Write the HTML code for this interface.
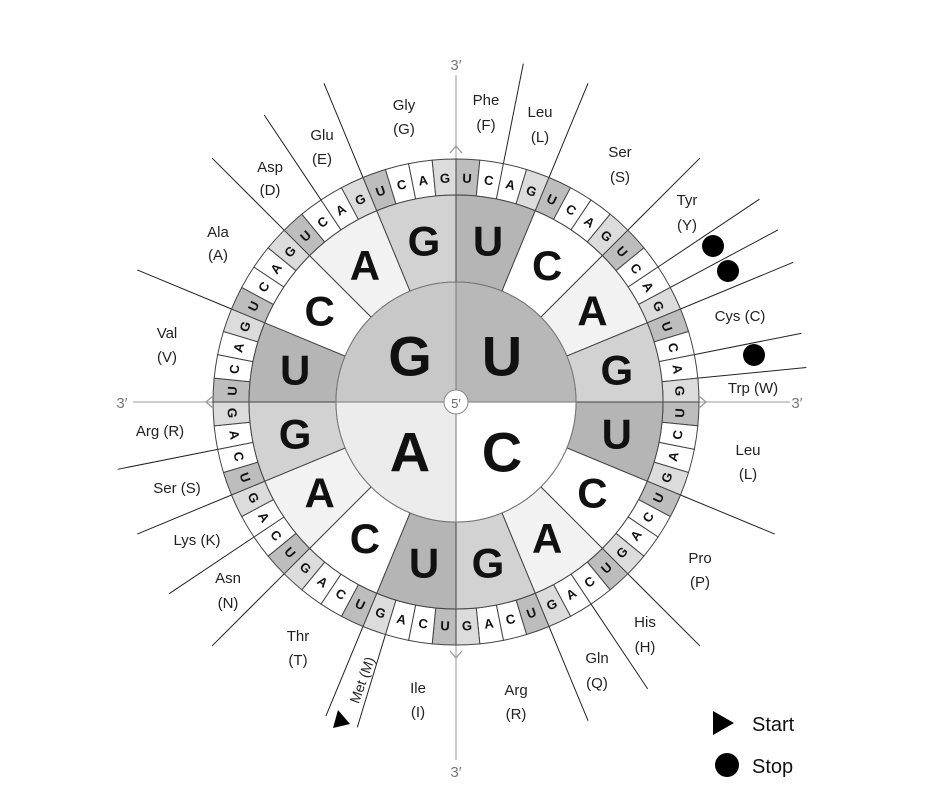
<!DOCTYPE html>
<html><head><meta charset="utf-8"><style>
html,body{margin:0;padding:0;background:#fff;}
svg{display:block;font-family:"Liberation Sans",sans-serif;}
.c3{font-size:13px;font-weight:bold;fill:#111;text-anchor:middle;dominant-baseline:central;}
.c2{font-size:42px;font-weight:bold;fill:#111;text-anchor:middle;dominant-baseline:central;}
.c1{font-size:56px;font-weight:bold;fill:#111;text-anchor:middle;dominant-baseline:central;}
.lb{font-size:15px;fill:#222;text-anchor:middle;}
.u{fill:#bdbdbd}.c{fill:#fff}.a{fill:#fff}.g{fill:#dcdcdc}
.w use{stroke:#444;stroke-width:1;}
.bl line{stroke:#222;stroke-width:1;}
</style></head><body>
<svg width="941" height="799" viewBox="0 0 941 799" xmlns="http://www.w3.org/2000/svg">
<defs>
<path id="w3" d="M444.08 159.29 A243 243 0 0 1 467.92 159.29 L466.16 195.25 A207 207 0 0 0 445.84 195.25 Z"/>
<path id="w2" d="M415.62 198.98 A207 207 0 0 1 496.38 198.98 L479.41 284.31 A120 120 0 0 0 432.59 284.31 Z"/>
</defs>
<g stroke="#999" stroke-width="1">
<line x1="456" y1="75" x2="456" y2="760"/>
<line x1="133" y1="402" x2="790" y2="402"/>
</g>
<text x="456" y="70" class="lb" style="fill:#777">3′</text>
<text x="456" y="777" class="lb" style="fill:#777">3′</text>
<text x="122" y="408" class="lb" style="fill:#777">3′</text>
<text x="797" y="408" class="lb" style="fill:#777">3′</text>
<g class="bl">
<line x1="456" y1="159" x2="456" y2="57" transform="rotate(11.25 456 402)"/>
<line x1="456" y1="159" x2="456" y2="57" transform="rotate(22.5 456 402)"/>
<line x1="456" y1="159" x2="456" y2="57" transform="rotate(45 456 402)"/>
<line x1="456" y1="159" x2="456" y2="37" transform="rotate(56.25 456 402)"/>
<line x1="456" y1="159" x2="456" y2="37" transform="rotate(61.875 456 402)"/>
<line x1="456" y1="159" x2="456" y2="37" transform="rotate(67.5 456 402)"/>
<line x1="456" y1="159" x2="456" y2="50" transform="rotate(78.75 456 402)"/>
<line x1="456" y1="159" x2="456" y2="50" transform="rotate(84.375 456 402)"/>
<line x1="456" y1="159" x2="456" y2="57" transform="rotate(112.5 456 402)"/>
<line x1="456" y1="159" x2="456" y2="57" transform="rotate(135 456 402)"/>
<line x1="456" y1="159" x2="456" y2="57" transform="rotate(146.25 456 402)"/>
<line x1="456" y1="159" x2="456" y2="57" transform="rotate(157.5 456 402)"/>
<line x1="456" y1="159" x2="456" y2="62" transform="rotate(196.875 456 402)"/>
<line x1="456" y1="159" x2="456" y2="62" transform="rotate(202.5 456 402)"/>
<line x1="456" y1="159" x2="456" y2="57" transform="rotate(225 456 402)"/>
<line x1="456" y1="159" x2="456" y2="57" transform="rotate(236.25 456 402)"/>
<line x1="456" y1="159" x2="456" y2="57" transform="rotate(247.5 456 402)"/>
<line x1="456" y1="159" x2="456" y2="57" transform="rotate(258.75 456 402)"/>
<line x1="456" y1="159" x2="456" y2="57" transform="rotate(292.5 456 402)"/>
<line x1="456" y1="159" x2="456" y2="57" transform="rotate(315 456 402)"/>
<line x1="456" y1="159" x2="456" y2="57" transform="rotate(326.25 456 402)"/>
<line x1="456" y1="159" x2="456" y2="57" transform="rotate(337.5 456 402)"/>
</g>
<g class="w">
<g transform="rotate(2.8125 456 402)"><use href="#w3" class="u"/><text class="c3" x="456" y="178">U</text></g>
<g transform="rotate(8.4375 456 402)"><use href="#w3" class="c"/><text class="c3" x="456" y="178">C</text></g>
<g transform="rotate(14.0625 456 402)"><use href="#w3" class="a"/><text class="c3" x="456" y="178">A</text></g>
<g transform="rotate(19.6875 456 402)"><use href="#w3" class="g"/><text class="c3" x="456" y="178">G</text></g>
<g transform="rotate(25.3125 456 402)"><use href="#w3" class="u"/><text class="c3" x="456" y="178">U</text></g>
<g transform="rotate(30.9375 456 402)"><use href="#w3" class="c"/><text class="c3" x="456" y="178">C</text></g>
<g transform="rotate(36.5625 456 402)"><use href="#w3" class="a"/><text class="c3" x="456" y="178">A</text></g>
<g transform="rotate(42.1875 456 402)"><use href="#w3" class="g"/><text class="c3" x="456" y="178">G</text></g>
<g transform="rotate(47.8125 456 402)"><use href="#w3" class="u"/><text class="c3" x="456" y="178">U</text></g>
<g transform="rotate(53.4375 456 402)"><use href="#w3" class="c"/><text class="c3" x="456" y="178">C</text></g>
<g transform="rotate(59.0625 456 402)"><use href="#w3" class="a"/><text class="c3" x="456" y="178">A</text></g>
<g transform="rotate(64.6875 456 402)"><use href="#w3" class="g"/><text class="c3" x="456" y="178">G</text></g>
<g transform="rotate(70.3125 456 402)"><use href="#w3" class="u"/><text class="c3" x="456" y="178">U</text></g>
<g transform="rotate(75.9375 456 402)"><use href="#w3" class="c"/><text class="c3" x="456" y="178">C</text></g>
<g transform="rotate(81.5625 456 402)"><use href="#w3" class="a"/><text class="c3" x="456" y="178">A</text></g>
<g transform="rotate(87.1875 456 402)"><use href="#w3" class="g"/><text class="c3" x="456" y="178">G</text></g>
<g transform="rotate(92.8125 456 402)"><use href="#w3" class="u"/><text class="c3" x="456" y="178" transform="rotate(180 456 178)">U</text></g>
<g transform="rotate(98.4375 456 402)"><use href="#w3" class="c"/><text class="c3" x="456" y="178" transform="rotate(180 456 178)">C</text></g>
<g transform="rotate(104.0625 456 402)"><use href="#w3" class="a"/><text class="c3" x="456" y="178" transform="rotate(180 456 178)">A</text></g>
<g transform="rotate(109.6875 456 402)"><use href="#w3" class="g"/><text class="c3" x="456" y="178" transform="rotate(180 456 178)">G</text></g>
<g transform="rotate(115.3125 456 402)"><use href="#w3" class="u"/><text class="c3" x="456" y="178" transform="rotate(180 456 178)">U</text></g>
<g transform="rotate(120.9375 456 402)"><use href="#w3" class="c"/><text class="c3" x="456" y="178" transform="rotate(180 456 178)">C</text></g>
<g transform="rotate(126.5625 456 402)"><use href="#w3" class="a"/><text class="c3" x="456" y="178" transform="rotate(180 456 178)">A</text></g>
<g transform="rotate(132.1875 456 402)"><use href="#w3" class="g"/><text class="c3" x="456" y="178" transform="rotate(180 456 178)">G</text></g>
<g transform="rotate(137.8125 456 402)"><use href="#w3" class="u"/><text class="c3" x="456" y="178" transform="rotate(180 456 178)">U</text></g>
<g transform="rotate(143.4375 456 402)"><use href="#w3" class="c"/><text class="c3" x="456" y="178" transform="rotate(180 456 178)">C</text></g>
<g transform="rotate(149.0625 456 402)"><use href="#w3" class="a"/><text class="c3" x="456" y="178" transform="rotate(180 456 178)">A</text></g>
<g transform="rotate(154.6875 456 402)"><use href="#w3" class="g"/><text class="c3" x="456" y="178" transform="rotate(180 456 178)">G</text></g>
<g transform="rotate(160.3125 456 402)"><use href="#w3" class="u"/><text class="c3" x="456" y="178" transform="rotate(180 456 178)">U</text></g>
<g transform="rotate(165.9375 456 402)"><use href="#w3" class="c"/><text class="c3" x="456" y="178" transform="rotate(180 456 178)">C</text></g>
<g transform="rotate(171.5625 456 402)"><use href="#w3" class="a"/><text class="c3" x="456" y="178" transform="rotate(180 456 178)">A</text></g>
<g transform="rotate(177.1875 456 402)"><use href="#w3" class="g"/><text class="c3" x="456" y="178" transform="rotate(180 456 178)">G</text></g>
<g transform="rotate(182.8125 456 402)"><use href="#w3" class="u"/><text class="c3" x="456" y="178" transform="rotate(180 456 178)">U</text></g>
<g transform="rotate(188.4375 456 402)"><use href="#w3" class="c"/><text class="c3" x="456" y="178" transform="rotate(180 456 178)">C</text></g>
<g transform="rotate(194.0625 456 402)"><use href="#w3" class="a"/><text class="c3" x="456" y="178" transform="rotate(180 456 178)">A</text></g>
<g transform="rotate(199.6875 456 402)"><use href="#w3" class="g"/><text class="c3" x="456" y="178" transform="rotate(180 456 178)">G</text></g>
<g transform="rotate(205.3125 456 402)"><use href="#w3" class="u"/><text class="c3" x="456" y="178" transform="rotate(180 456 178)">U</text></g>
<g transform="rotate(210.9375 456 402)"><use href="#w3" class="c"/><text class="c3" x="456" y="178" transform="rotate(180 456 178)">C</text></g>
<g transform="rotate(216.5625 456 402)"><use href="#w3" class="a"/><text class="c3" x="456" y="178" transform="rotate(180 456 178)">A</text></g>
<g transform="rotate(222.1875 456 402)"><use href="#w3" class="g"/><text class="c3" x="456" y="178" transform="rotate(180 456 178)">G</text></g>
<g transform="rotate(227.8125 456 402)"><use href="#w3" class="u"/><text class="c3" x="456" y="178" transform="rotate(180 456 178)">U</text></g>
<g transform="rotate(233.4375 456 402)"><use href="#w3" class="c"/><text class="c3" x="456" y="178" transform="rotate(180 456 178)">C</text></g>
<g transform="rotate(239.0625 456 402)"><use href="#w3" class="a"/><text class="c3" x="456" y="178" transform="rotate(180 456 178)">A</text></g>
<g transform="rotate(244.6875 456 402)"><use href="#w3" class="g"/><text class="c3" x="456" y="178" transform="rotate(180 456 178)">G</text></g>
<g transform="rotate(250.3125 456 402)"><use href="#w3" class="u"/><text class="c3" x="456" y="178" transform="rotate(180 456 178)">U</text></g>
<g transform="rotate(255.9375 456 402)"><use href="#w3" class="c"/><text class="c3" x="456" y="178" transform="rotate(180 456 178)">C</text></g>
<g transform="rotate(261.5625 456 402)"><use href="#w3" class="a"/><text class="c3" x="456" y="178" transform="rotate(180 456 178)">A</text></g>
<g transform="rotate(267.1875 456 402)"><use href="#w3" class="g"/><text class="c3" x="456" y="178" transform="rotate(180 456 178)">G</text></g>
<g transform="rotate(272.8125 456 402)"><use href="#w3" class="u"/><text class="c3" x="456" y="178">U</text></g>
<g transform="rotate(278.4375 456 402)"><use href="#w3" class="c"/><text class="c3" x="456" y="178">C</text></g>
<g transform="rotate(284.0625 456 402)"><use href="#w3" class="a"/><text class="c3" x="456" y="178">A</text></g>
<g transform="rotate(289.6875 456 402)"><use href="#w3" class="g"/><text class="c3" x="456" y="178">G</text></g>
<g transform="rotate(295.3125 456 402)"><use href="#w3" class="u"/><text class="c3" x="456" y="178">U</text></g>
<g transform="rotate(300.9375 456 402)"><use href="#w3" class="c"/><text class="c3" x="456" y="178">C</text></g>
<g transform="rotate(306.5625 456 402)"><use href="#w3" class="a"/><text class="c3" x="456" y="178">A</text></g>
<g transform="rotate(312.1875 456 402)"><use href="#w3" class="g"/><text class="c3" x="456" y="178">G</text></g>
<g transform="rotate(317.8125 456 402)"><use href="#w3" class="u"/><text class="c3" x="456" y="178">U</text></g>
<g transform="rotate(323.4375 456 402)"><use href="#w3" class="c"/><text class="c3" x="456" y="178">C</text></g>
<g transform="rotate(329.0625 456 402)"><use href="#w3" class="a"/><text class="c3" x="456" y="178">A</text></g>
<g transform="rotate(334.6875 456 402)"><use href="#w3" class="g"/><text class="c3" x="456" y="178">G</text></g>
<g transform="rotate(340.3125 456 402)"><use href="#w3" class="u"/><text class="c3" x="456" y="178">U</text></g>
<g transform="rotate(345.9375 456 402)"><use href="#w3" class="c"/><text class="c3" x="456" y="178">C</text></g>
<g transform="rotate(351.5625 456 402)"><use href="#w3" class="a"/><text class="c3" x="456" y="178">A</text></g>
<g transform="rotate(357.1875 456 402)"><use href="#w3" class="g"/><text class="c3" x="456" y="178">G</text></g>
</g>
<g class="w">
<g transform="rotate(11.25 456 402)"><use href="#w2" fill="#b5b5b5"/><text class="c2" x="456" y="238" transform="rotate(-11.25 456 238)">U</text></g>
<g transform="rotate(33.75 456 402)"><use href="#w2" fill="#fff"/><text class="c2" x="456" y="238" transform="rotate(-33.75 456 238)">C</text></g>
<g transform="rotate(56.25 456 402)"><use href="#w2" fill="#f2f2f2"/><text class="c2" x="456" y="238" transform="rotate(-56.25 456 238)">A</text></g>
<g transform="rotate(78.75 456 402)"><use href="#w2" fill="#d2d2d2"/><text class="c2" x="456" y="238" transform="rotate(-78.75 456 238)">G</text></g>
<g transform="rotate(101.25 456 402)"><use href="#w2" fill="#b5b5b5"/><text class="c2" x="456" y="238" transform="rotate(-101.25 456 238)">U</text></g>
<g transform="rotate(123.75 456 402)"><use href="#w2" fill="#fff"/><text class="c2" x="456" y="238" transform="rotate(-123.75 456 238)">C</text></g>
<g transform="rotate(146.25 456 402)"><use href="#w2" fill="#f2f2f2"/><text class="c2" x="456" y="238" transform="rotate(-146.25 456 238)">A</text></g>
<g transform="rotate(168.75 456 402)"><use href="#w2" fill="#d2d2d2"/><text class="c2" x="456" y="238" transform="rotate(-168.75 456 238)">G</text></g>
<g transform="rotate(191.25 456 402)"><use href="#w2" fill="#b5b5b5"/><text class="c2" x="456" y="238" transform="rotate(-191.25 456 238)">U</text></g>
<g transform="rotate(213.75 456 402)"><use href="#w2" fill="#fff"/><text class="c2" x="456" y="238" transform="rotate(-213.75 456 238)">C</text></g>
<g transform="rotate(236.25 456 402)"><use href="#w2" fill="#f2f2f2"/><text class="c2" x="456" y="238" transform="rotate(-236.25 456 238)">A</text></g>
<g transform="rotate(258.75 456 402)"><use href="#w2" fill="#d2d2d2"/><text class="c2" x="456" y="238" transform="rotate(-258.75 456 238)">G</text></g>
<g transform="rotate(281.25 456 402)"><use href="#w2" fill="#b5b5b5"/><text class="c2" x="456" y="238" transform="rotate(-281.25 456 238)">U</text></g>
<g transform="rotate(303.75 456 402)"><use href="#w2" fill="#fff"/><text class="c2" x="456" y="238" transform="rotate(-303.75 456 238)">C</text></g>
<g transform="rotate(326.25 456 402)"><use href="#w2" fill="#f2f2f2"/><text class="c2" x="456" y="238" transform="rotate(-326.25 456 238)">A</text></g>
<g transform="rotate(348.75 456 402)"><use href="#w2" fill="#d2d2d2"/><text class="c2" x="456" y="238" transform="rotate(-348.75 456 238)">G</text></g>
</g>
<g stroke="#777" stroke-width="1">
<path d="M456 402 L456 282 A120 120 0 0 1 576 402 Z" fill="#b8b8b8"/>
<path d="M456 402 L576 402 A120 120 0 0 1 456 522 Z" fill="#fff"/>
<path d="M456 402 L456 522 A120 120 0 0 1 336 402 Z" fill="#ececec"/>
<path d="M456 402 L336 402 A120 120 0 0 1 456 282 Z" fill="#c8c8c8"/>
</g>
<text class="c1" x="410" y="356">G</text>
<text class="c1" x="502" y="356">U</text>
<text class="c1" x="410" y="452">A</text>
<text class="c1" x="502" y="452">C</text>
<circle cx="456" cy="402" r="12" fill="#fff" stroke="#888"/>
<text x="456" y="408" text-anchor="middle" font-size="13" fill="#666">5′</text>
<g fill="none" stroke="#999" stroke-width="1.3">
<polyline points="450,153 456,146 462,153"/>
<polyline points="450,651 456,658 462,651"/>
<polyline points="213,396 206,402 213,408"/>
<polyline points="699,396 706,402 699,408"/>
</g>
<g class="lb">
<text x="404" y="110">Gly</text><text x="404" y="134">(G)</text>
<text x="322" y="140">Glu</text><text x="322" y="164">(E)</text>
<text x="270" y="172">Asp</text><text x="270" y="195">(D)</text>
<text x="218" y="237">Ala</text><text x="218" y="260">(A)</text>
<text x="167" y="338">Val</text><text x="167" y="362">(V)</text>
<text x="160" y="436">Arg (R)</text>
<text x="177" y="493">Ser (S)</text>
<text x="197" y="545">Lys (K)</text>
<text x="228" y="583">Asn</text><text x="228" y="608">(N)</text>
<text x="298" y="641">Thr</text><text x="298" y="665">(T)</text>
<text x="418" y="693">Ile</text><text x="418" y="717">(I)</text>
<text x="516" y="695">Arg</text><text x="516" y="719">(R)</text>
<text x="597" y="663">Gln</text><text x="597" y="688">(Q)</text>
<text x="645" y="627">His</text><text x="645" y="652">(H)</text>
<text x="700" y="563">Pro</text><text x="700" y="587">(P)</text>
<text x="748" y="455">Leu</text><text x="748" y="479">(L)</text>
<text x="753" y="393">Trp (W)</text>
<text x="740" y="321">Cys (C)</text>
<text x="687" y="205">Tyr</text><text x="687" y="230">(Y)</text>
<text x="620" y="157">Ser</text><text x="620" y="182">(S)</text>
<text x="540" y="117">Leu</text><text x="540" y="142">(L)</text>
<text x="486" y="105">Phe</text><text x="486" y="130">(F)</text>
</g>
<text x="362" y="685" font-size="14" fill="#222" text-anchor="middle" transform="rotate(-70.3 362 680)">Met (M)</text>
<polygon points="333,728 350,724 338,710" fill="#000"/>
<circle cx="713" cy="246" r="11" fill="#000"/>
<circle cx="728" cy="271" r="11" fill="#000"/>
<circle cx="754" cy="355" r="11" fill="#000"/>
<polygon points="713,711 713,735 734,723" fill="#000"/>
<text x="752" y="731" font-size="20" fill="#111">Start</text>
<circle cx="727" cy="765" r="12" fill="#000"/>
<text x="752" y="773" font-size="20" fill="#111">Stop</text>
</svg>
</body></html>
